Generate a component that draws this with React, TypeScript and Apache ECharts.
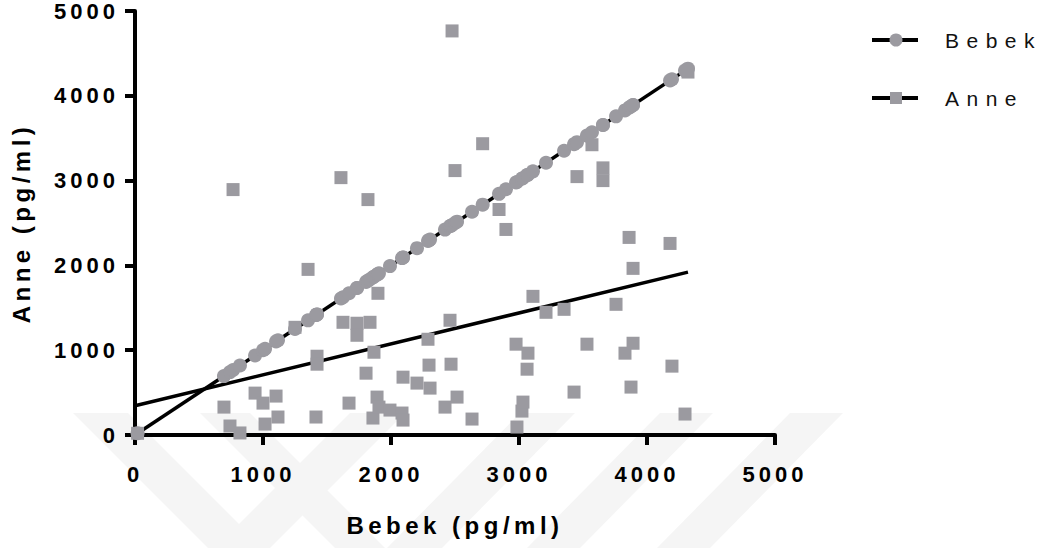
import React, { useEffect, useRef } from "react";
import * as echarts from "echarts";

// Paired samples: Bebek (baby) value and Anne (mother) value, pg/ml
const bebek = [
  20, 695, 742, 766, 820, 938, 1000, 1016, 1102, 1117, 1250, 1352, 1414, 1422, 1422,
  1609, 1625, 1672, 1734, 1734, 1805, 1820, 1836, 1859, 1867, 1891, 1898, 1906, 1992,
  2086, 2094, 2094, 2203, 2289, 2297, 2305, 2422, 2461, 2469, 2477, 2500, 2516, 2633,
  2716, 2844, 2898, 2977, 2984, 3023, 3031, 3063, 3070, 3109, 3211, 3352, 3430, 3453,
  3531, 3570, 3656, 3656, 3758, 3828, 3860, 3875, 3891, 3891, 4180, 4195, 4297, 4320,
];
const anne = [
  20, 329, 106, 2894, 24, 494, 376, 129, 459, 212, 1270, 1953, 212, 929, 835,
  3035, 1329, 376, 1318, 1176, 729, 2776, 1329, 200, 976, 447, 1671, 329, 294,
  259, 176, 682, 612, 1129, 824, 553, 329, 1353, 835, 4765, 3118, 447, 188,
  3435, 2659, 2424, 1071, 94, 282, 388, 776, 965, 1635, 1447, 1482, 506, 3047,
  1071, 3423, 3150, 3000, 1541, 965, 2330, 565, 1965, 1082, 2259, 812, 247, 4280,
];
// Regression line end points (fitted values)
const bebekFit = [[0, 0], [4320, 4320]];
const anneFit = [[0, 345], [4320, 1921]];

const axisMin = 0;
const axisMax = 5000;
const axisStep = 1000;
const xTitle = "Bebek (pg/ml)";
const yTitle = "Anne (pg/ml)";
const legendNames = ["Bebek", "Anne"];

const MARK = "#9b9aa0";
const FONT = "Liberation Sans";
const WM = "#f5f5f5";

const css = `
.chart text { letter-spacing: 4px; }
.chart text[style*="24px"] { letter-spacing: 4.5px; }
.chart text[style*="21px"] { letter-spacing: 7.5px; }
`;

export default function App() {
  const ref = useRef<HTMLDivElement>(null);
  useEffect(() => {
    const chart = echarts.init(ref.current!, null, { renderer: "svg" });
    const band = (pts: number[][]) => ({
      type: "polygon",
      z: -10,
      silent: true,
      shape: { points: pts },
      style: { fill: WM },
    });
    const tickFmt = (v: number) => String(v);
    chart.setOption({
      animation: false,
      backgroundColor: "#ffffff",
      grid: { left: 135, right: 276, top: 10, bottom: 113, containLabel: false },
      xAxis: {
        type: "value",
        min: axisMin,
        max: axisMax,
        interval: axisStep,
        name: xTitle,
        nameLocation: "middle",
        nameGap: 78,
        nameTextStyle: { fontFamily: FONT, fontSize: 24, fontWeight: "bold", color: "#000" },
        axisLine: { show: true, onZero: false, lineStyle: { color: "#000", width: 4 } },
        axisTick: { show: true, length: 10, lineStyle: { color: "#000", width: 4 } },
        axisLabel: { margin: 28, formatter: tickFmt, fontFamily: FONT, fontSize: 22, fontWeight: "bold", color: "#000" },
        splitLine: { show: false },
      },
      yAxis: {
        type: "value",
        min: axisMin,
        max: axisMax,
        interval: axisStep,
        name: yTitle,
        nameLocation: "middle",
        nameGap: 102,
        nameRotate: 90,
        nameTextStyle: { fontFamily: FONT, fontSize: 24, fontWeight: "bold", color: "#000" },
        axisLine: { show: true, onZero: false, lineStyle: { color: "#000", width: 4 } },
        axisTick: { show: true, length: 10, lineStyle: { color: "#000", width: 4 } },
        axisLabel: { margin: 16, formatter: tickFmt, fontFamily: FONT, fontSize: 22, fontWeight: "bold", color: "#000" },
        splitLine: { show: false },
      },
      series: [
        {
          type: "line",
          data: bebekFit,
          symbol: "none",
          silent: true,
          lineStyle: { color: "#000", width: 3.5 },
          z: 2,
        },
        {
          type: "line",
          data: anneFit,
          symbol: "none",
          silent: true,
          lineStyle: { color: "#000", width: 3.5 },
          z: 2,
        },
        {
          type: "scatter",
          name: legendNames[0],
          data: bebek.map((b) => [b, b]),
          symbol: "circle",
          symbolSize: 14,
          itemStyle: { color: MARK, opacity: 1 },
          z: 3,
        },
        {
          type: "scatter",
          name: legendNames[1],
          data: bebek.map((b, i) => [b, anne[i]]),
          symbol: "rect",
          symbolSize: 13,
          itemStyle: { color: MARK, opacity: 1 },
          z: 4,
        },
      ],
      graphic: [
        band([[73, 413], [128, 413], [263, 548], [208, 548]]),
        band([[200, 413], [250, 413], [385, 548], [335, 548]]),
        band([[350, 413], [405, 413], [270, 548], [215, 548]]),
        band([[520, 413], [575, 413], [442, 548], [387, 548]]),
        band([[660, 413], [713, 413], [580, 548], [527, 548]]),
        band([[790, 413], [843, 413], [710, 548], [657, 548]]),
        { type: "line", shape: { x1: 872, y1: 40, x2: 918, y2: 40 }, style: { stroke: "#000", lineWidth: 4 } },
        { type: "circle", shape: { cx: 896, cy: 40, r: 6.5 }, style: { fill: MARK } },
        {
          type: "text",
          x: 945,
          y: 40,
          style: { text: legendNames[0], fontFamily: FONT, fontSize: 21, fill: "#111", verticalAlign: "middle" },
        },
        { type: "line", shape: { x1: 872, y1: 98, x2: 918, y2: 98 }, style: { stroke: "#000", lineWidth: 4 } },
        { type: "rect", shape: { x: 890, y: 92, width: 12, height: 12 }, style: { fill: MARK } },
        {
          type: "text",
          x: 945,
          y: 98,
          style: { text: legendNames[1], fontFamily: FONT, fontSize: 21, fill: "#111", verticalAlign: "middle" },
        },
      ],
    });
    return () => chart.dispose();
  }, []);
  return (
    <>
      <style>{css}</style>
      <div
        ref={ref}
        className="chart"
        style={{ position: "fixed", left: 0, top: 0, width: 1051, height: 548, background: "#fff" }}
      />
    </>
  );
}
